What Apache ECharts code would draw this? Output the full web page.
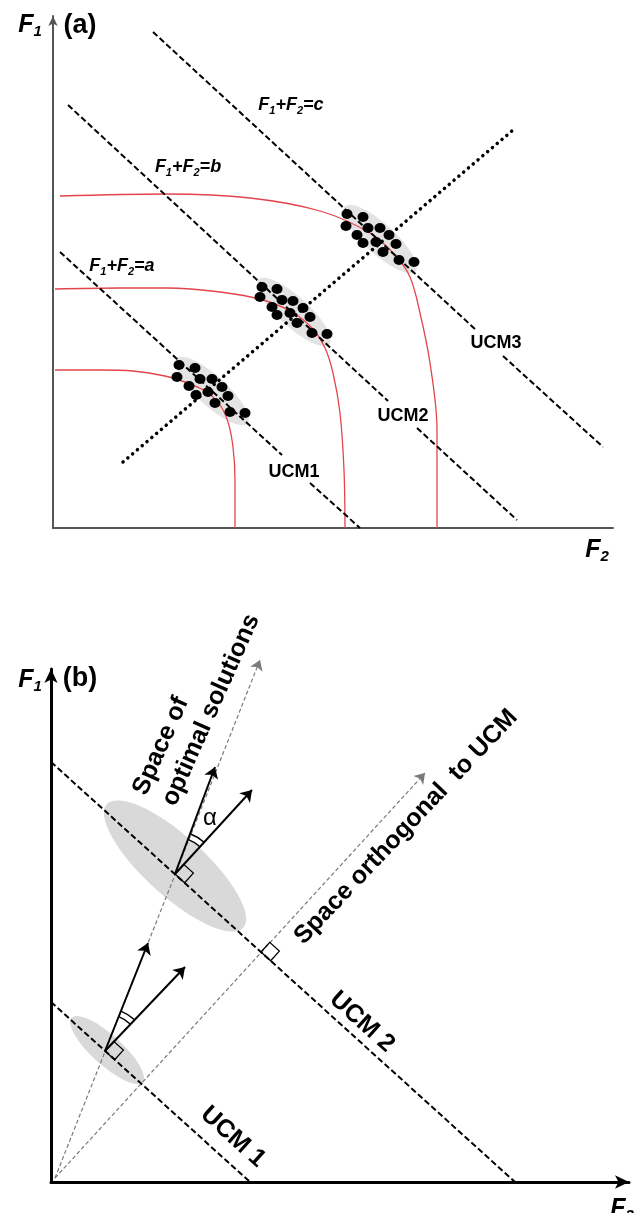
<!DOCTYPE html>
<html><head><meta charset="utf-8">
<script src="https://cdn.jsdelivr.net/npm/echarts@6/dist/echarts.min.js"></script>
<style>html,body{margin:0;padding:0;background:#fff}#c{width:640px;height:1213px}</style>
</head><body><div id="c"></div>
<script>
// ---------- Panel (a): x = F2, y = F1 (origin at the axes corner) ----------
// iso-performance lines F1+F2=a, b, c (each split where its UCM label sits)
const isoLinesA = [
  [[7,276],[229,73]], [[257,45],[307,0]],
  [[15,423],[335,127]], [[364,100],[464,8]],
  [[100,496],[422,199]], [[450,172],[550,81]]
];
const diagonalA = [[70,66],[460,398]];
const curveA1 = [[2,158],[47,158],[80,157],[112,152],[137,144],[154,136],[167,123],[175,106],[180,81],[182,48],[182,0]];
const curveA2 = [[2,239],[67,240],[114,240],[167,236],[210,228],[239,216],[259,200],[272,180],[280,155],[287,115],[291,58],[292,0]];
const curveA3 = [[7,332],[114,334],[197,330],[267,317],[317,295],[342,273],[357,251],[367,215],[377,165],[384,98],[384,0]];
const cluster1 = [[126,163],[142,160],[124,151],[147,149],[159,149],[136,142],[169,141],[143,133],[155,136],[175,132],[162,125],[177,116],[192,115]];
const cluster2 = [[209,241],[224,239],[207,231],[229,228],[240,227],[219,221],[250,220],[224,213],[237,215],[257,211],[244,205],[259,195],[274,194]];
const cluster3 = [[294,314],[310,311],[293,302],[315,300],[327,300],[304,293],[336,293],[310,285],[323,286],[343,284],[330,276],[346,268],[361,266]];
const ellipsesA = [[159,137,48,15],[241,216,48,15],[327,289,48,15]]; // cx, cy, semi-axis along UCM, semi-axis across

// ---------- Panel (b) ----------
const ucmLinesB = [[[0,420],[464,0]], [[0,180],[199,0]]];
const grayArrowsB = [[[4,4],[209,522]], [[4,4],[374,409]]];
const blackArrowsB = [[[124,308],[164,415]], [[124,308],[201,392]], [[54,131],[97,239]], [[54,131],[134,215]]];
const ellipsesB = [[124,316,92,30],[56,132,48,15]];
const rightAnglesB = [[124,308],[54,131],[210,230]];
const angleArcsB = [[124,308,164,415,201,392],[54,131,97,239,134,215]];

const FONT = '"Liberation Sans", Arial, Helvetica, sans-serif';

function ellipseSeries(data, gi, dirLine, color){
  return {type:'custom', xAxisIndex:gi, yAxisIndex:gi, data, clip:false, silent:true, z:1,
    renderItem(params, api){
      const c = api.coord([api.value(0), api.value(1)]);
      const s = api.size([1,1]);
      const a = api.coord(dirLine[0]), b = api.coord(dirLine[1]);
      const ang = Math.atan2(b[1]-a[1], b[0]-a[0]);
      return {type:'circle', shape:{cx:0,cy:0,r:1}, x:c[0], y:c[1],
        scaleX: api.value(2)*s[0], scaleY: api.value(3)*s[1], rotation:-ang,
        style:{fill:color}};
    }};
}
function linesSeries(data, gi, style, extra){
  return Object.assign({type:'lines', coordinateSystem:'cartesian2d', xAxisIndex:gi, yAxisIndex:gi,
    polyline:false, silent:true, clip:false,
    data: data.map(s=>({coords:s})), lineStyle:Object.assign({opacity:1, curveness:0}, style)}, extra||{});
}
function curveSeries(data){
  return {type:'line', xAxisIndex:0, yAxisIndex:0, data, smooth:0.35, showSymbol:false, symbol:'none',
    silent:true, z:2, lineStyle:{color:'#e3454c', width:1.3}};
}
function dotSeries(data){
  return {type:'scatter', xAxisIndex:0, yAxisIndex:0, data, symbol:'circle', symbolSize:[11,10],
    itemStyle:{color:'#000', opacity:1}, silent:true, z:5};
}

function txt(x, y, text, size, opts){
  opts = opts || {};
  const rich = {
    i:{fontSize:size, fontStyle:'italic', fontWeight:'bold', fontFamily:FONT, fill:'#000', lineHeight:size+4},
    s:{fontSize:Math.round(size*0.6), fontStyle:'italic', fontWeight:'bold', fontFamily:FONT, fill:'#000',
       lineHeight:Math.round(size*0.6), verticalAlign:'bottom'}
  };
  return {type:'text', x, y, z:100, rotation:(opts.rot||0)*Math.PI/180, silent:true,
    style:{x:0, y:0, text, fontSize:size, fontFamily:FONT, fontWeight:opts.weight||'bold',
      fontStyle:opts.style||'normal', fill:'#000', align:'center', verticalAlign:'middle',
      textAlign:'center', textVerticalAlign:'middle', rich}};
}

const option = {
  animation:false,
  backgroundColor:'#fff',
  grid:[
    {left:53, top:16, width:560, height:512},
    {left:51, top:669, width:578, height:513}
  ],
  xAxis:[
    {gridIndex:0, type:'value', min:0, max:560, axisLine:{show:true, onZero:false, lineStyle:{color:'#555', width:2}},
     axisTick:{show:false}, axisLabel:{show:false}, splitLine:{show:false}},
    {gridIndex:1, type:'value', min:0, max:578, axisLine:{show:true, onZero:false, symbol:['none','arrow'], symbolSize:[10,14],
     lineStyle:{color:'#000', width:3}}, axisTick:{show:false}, axisLabel:{show:false}, splitLine:{show:false}}
  ],
  yAxis:[
    {gridIndex:0, type:'value', min:0, max:512, axisLine:{show:true, onZero:false, symbol:['none','arrow'], symbolSize:[7,10],
     lineStyle:{color:'#555', width:2}}, axisTick:{show:false}, axisLabel:{show:false}, splitLine:{show:false}},
    {gridIndex:1, type:'value', min:0, max:513, axisLine:{show:true, onZero:false, symbol:['none','arrow'], symbolSize:[10,14],
     lineStyle:{color:'#000', width:3}}, axisTick:{show:false}, axisLabel:{show:false}, splitLine:{show:false}}
  ],
  series:[
    // panel a
    ellipseSeries(ellipsesA, 0, isoLinesA[0], '#e3e3e3'),
    curveSeries(curveA1), curveSeries(curveA2), curveSeries(curveA3),
    linesSeries(isoLinesA, 0, {color:'#000', width:2, type:[6,3]}, {z:3}),
    linesSeries([diagonalA], 0, {color:'#000', width:3.5, type:[0.1,6.2], cap:'round'}, {z:3}),
    dotSeries(cluster1), dotSeries(cluster2), dotSeries(cluster3),
    // panel b
    ellipseSeries(ellipsesB, 1, ucmLinesB[0], '#d9d9d9'),
    linesSeries(grayArrowsB, 1, {color:'#7a7a7a', width:1.2, type:[4,2.5]}, {z:2, symbol:['none','arrow'], symbolSize:10}),
    linesSeries(ucmLinesB, 1, {color:'#000', width:2, type:[6,3]}, {z:3}),
    linesSeries(blackArrowsB, 1, {color:'#000', width:2}, {z:4, symbol:['none','arrow'], symbolSize:11}),
    {type:'custom', xAxisIndex:1, yAxisIndex:1, data:rightAnglesB, clip:false, silent:true, z:5,
     renderItem(params, api){
       const v = api.coord([api.value(0), api.value(1)]);
       const a = api.coord(ucmLinesB[0][0]), b = api.coord(ucmLinesB[0][1]);
       let ux=b[0]-a[0], uy=b[1]-a[1]; const L=Math.hypot(ux,uy); ux/=L; uy/=L;
       const wx=uy, wy=-ux, s=13;
       return {type:'polygon', shape:{points:[[v[0],v[1]],[v[0]+s*ux,v[1]+s*uy],[v[0]+s*ux+s*wx,v[1]+s*uy+s*wy],[v[0]+s*wx,v[1]+s*wy]]},
         style:{fill:'none', stroke:'#000', lineWidth:1.3}};
     }},
    {type:'custom', xAxisIndex:1, yAxisIndex:1, data:angleArcsB, clip:false, silent:true, z:5,
     renderItem(params, api){
       const v = api.coord([api.value(0), api.value(1)]);
       const p1 = api.coord([api.value(2), api.value(3)]);
       const p2 = api.coord([api.value(4), api.value(5)]);
       const a1 = Math.atan2(p1[1]-v[1], p1[0]-v[0]), a2 = Math.atan2(p2[1]-v[1], p2[0]-v[0]);
       const lo = Math.min(a1,a2), hi = Math.max(a1,a2);
       return {type:'group', children:[37,43].map(r=>({type:'arc',
         shape:{cx:v[0], cy:v[1], r, startAngle:lo, endAngle:hi, clockwise:true},
         style:{stroke:'#000', fill:'none', lineWidth:1.4}}))};
     }}
  ],
  graphic:[
    // panel a texts
    txt(30, 25, '{i|F}{s|1}', 25),
    txt(80, 26, '(a)', 27),
    txt(291, 105, '{i|F}{s|1}{i|+F}{s|2}{i|=c}', 18),
    txt(188, 167, '{i|F}{s|1}{i|+F}{s|2}{i|=b}', 18),
    txt(122, 266, '{i|F}{s|1}{i|+F}{s|2}{i|=a}', 18),
    txt(294, 472, 'UCM1', 18),
    txt(403, 416, 'UCM2', 18),
    txt(496, 343, 'UCM3', 18),
    txt(597, 550, '{i|F}{s|2}', 25),
    // panel b texts
    txt(30, 680, '{i|F}{s|1}', 25),
    txt(80, 679, '(b)', 27),
    txt(161, 746, 'Space of', 25, {rot:66}),
    txt(211, 710, 'optimal solutions', 25, {rot:66}),
    txt(406, 827, 'Space orthogonal  to UCM', 25, {rot:46.6}),
    txt(362, 1022, 'UCM 2', 25, {rot:-42}),
    txt(233, 1137, 'UCM 1', 25, {rot:-42}),
    txt(210, 818, 'α', 24, {weight:'normal'}),
    txt(622, 1209, '{i|F}{s|2}', 25)
  ]
};
const chart = echarts.init(document.getElementById('c'), null, {renderer:'canvas', width:640, height:1213});
chart.setOption(option);
</script></body></html>
